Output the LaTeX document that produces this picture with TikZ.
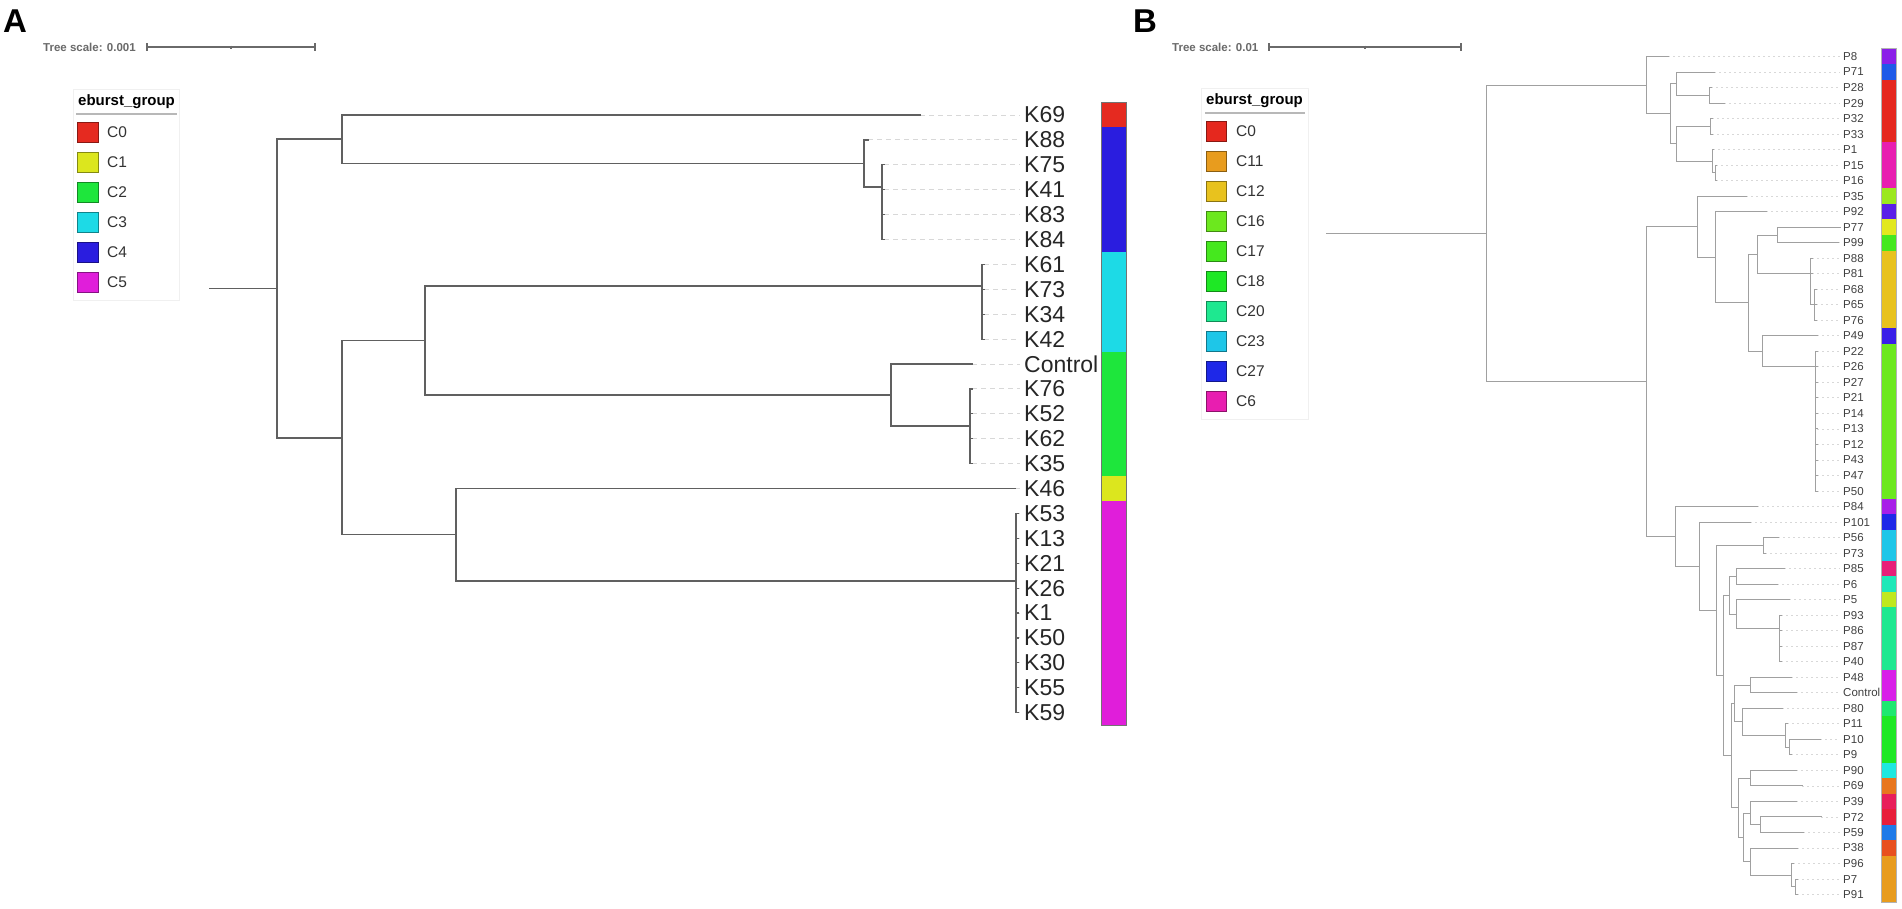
\documentclass[tikz,border=0pt]{standalone}
\usepackage{fontspec}
\setmainfont{Liberation Sans}
\usepackage{xcolor}
\usetikzlibrary{calc}

% panel A groups
\definecolor{cAzero}{HTML}{E52A20}
\definecolor{cAone}{HTML}{DCE61E}
\definecolor{cAtwo}{HTML}{1EE63C}
\definecolor{cAthree}{HTML}{1DDAE6}
\definecolor{cAfour}{HTML}{2A1DDF}
\definecolor{cAfive}{HTML}{E01EDA}
% panel B groups
\definecolor{cBred}{HTML}{E5281E}
\definecolor{cBorange}{HTML}{E89C1E}
\definecolor{cgold}{HTML}{E8C21E}
\definecolor{clime}{HTML}{6CE81E}
\definecolor{cgreenA}{HTML}{45E81E}
\definecolor{cgreenB}{HTML}{1EE825}
\definecolor{cmint}{HTML}{1EE890}
\definecolor{csky}{HTML}{1EC6E8}
\definecolor{cBblue}{HTML}{1E28E8}
\definecolor{cBmag}{HTML}{E81EB0}
\definecolor{cviolet}{HTML}{8B1EE8}
\definecolor{cazure}{HTML}{1E5AE8}
\definecolor{cyg}{HTML}{9BE81E}
\definecolor{cindigo}{HTML}{5A1EE8}
\definecolor{cyellow}{HTML}{E2E81E}
\definecolor{cblueB}{HTML}{3A1EE8}
\definecolor{cpurple}{HTML}{A81EE8}
\definecolor{cpink}{HTML}{E81E78}
\definecolor{caqua}{HTML}{1EE8B8}
\definecolor{clemon}{HTML}{C0E81E}
\definecolor{cpurpB}{HTML}{D81EE8}
\definecolor{cgreenC}{HTML}{1EE870}
\definecolor{ccyan}{HTML}{1EE8E0}
\definecolor{corangeB}{HTML}{E8761E}
\definecolor{ccrimson}{HTML}{E81E5A}
\definecolor{cscarlet}{HTML}{E81E3A}
\definecolor{cazureB}{HTML}{1E7AE8}
\definecolor{cvermil}{HTML}{E8501E}
% lines and text
\definecolor{treeA}{HTML}{606060}
\definecolor{treeB}{HTML}{A0A0A0}
\definecolor{leadgrey}{HTML}{D8D8D8}
\definecolor{scalegrey}{HTML}{6A6A6A}

\tikzset{
	branchA/.style={draw=treeA, line width=1.2pt, line cap=rect},
	branchB/.style={draw=treeB, line width=1pt, line cap=rect},
	leaderA/.style={draw=leadgrey, line width=1pt, dash pattern=on 5pt off 4pt, shorten >=4pt},
	leaderB/.style={draw=leadgrey, line width=0.9pt, dash pattern=on 2pt off 3pt, shorten >=3pt},
	leafA/.style={anchor=west, inner sep=0pt, text=black!85, font=\fontsize{23}{23}\selectfont},
	leafB/.style={anchor=west, inner sep=0pt, text=black!75, font=\fontsize{11.5}{11.5}\selectfont},
	panelmark/.style={anchor=base west, inner sep=0pt, font=\fontsize{33}{33}\selectfont\bfseries},
	scaletext/.style={anchor=west, inner sep=0pt, text=scalegrey, font=\fontsize{11.5}{11.5}\selectfont\bfseries},
	scalebar/.style={draw=scalegrey, line width=1.2pt},
	legbox/.style={draw=black!6, fill=white, line width=1pt},
	legtitle/.style={anchor=west, inner sep=0pt, font=\fontsize{15}{15}\selectfont\bfseries},
	legsep/.style={draw=black!28, line width=2pt},
	legtext/.style={anchor=west, inner sep=0pt, text=black!80, font=\fontsize{15.5}{15.5}\selectfont},
	barframe/.style={draw=black!55, line width=0.8pt}
}

\begin{document}
\begin{tikzpicture}[x=1pt, y=-1pt]
	\useasboundingbox (0,0) rectangle (1902,908);
	\fill[white] (0,0) rectangle (1902,908);

	%%% panel A
	\node[panelmark] (markA) at (3,32) {A};
	\node[scaletext] (scaleA) at (43,47) {Tree scale: 0.001};
	\draw[scalebar] (147,43) -- (147,51) (147,47) -- (315,47) (315,43) -- (315,51) (231,45.5) -- (231,48.5);

	\draw[legbox] (73,89) rectangle (179,300);
	\node[legtitle] (titleA) at (78,102) {eburst\_group};
	\draw[legsep] (76,114) -- (177,114);
	\foreach \k/\col/\lab in {0/cAzero/C0, 1/cAone/C1, 2/cAtwo/C2, 3/cAthree/C3, 4/cAfour/C4, 5/cAfive/C5} {
		\draw[fill=\col, draw=\col!60!black, line width=1pt] (77,{122+30*\k}) rectangle (98,{142+30*\k});
		\node[legtext] (legA\k) at (107,{132+30*\k}) {\lab};
	}

	\foreach \i/\lab/\xe in {0/K69/920, 1/K88/868, 2/K75/884, 3/K41/884, 4/K83/884, 5/K84/884,
		6/K61/984, 7/K73/984, 8/K34/984, 9/K42/984, 10/Control/972, 11/K76/972, 12/K52/972,
		13/K62/972, 14/K35/972, 15/K46/1015, 16/K53/1018, 17/K13/1018, 18/K21/1018, 19/K26/1018,
		20/K1/1018, 21/K50/1018, 22/K30/1018, 23/K55/1018, 24/K59/1018} {
		\pgfmathsetmacro{\yy}{115+24.9*\i}
		\coordinate (a\i) at (\xe,\yy);
		\node[leafA] (labA\i) at (1024,\yy) {\lab};
		\draw[leaderA] (a\i) -- (labA\i.west);
	}

	\coordinate (rootA) at (210,288.5);
	\coordinate (rA) at (277,288.5);
	\coordinate (tA) at (342,139);
	\coordinate (kA) at (864,163.5);
	\coordinate (kkA) at (882,187);
	\coordinate (lA) at (342,438);
	\coordinate (uA) at (425,340.5);
	\coordinate (cthreeA) at (982,286);
	\coordinate (ctlA) at (891,395);
	\coordinate (ctwoA) at (970,426);
	\coordinate (wA) at (456,534.5);
	\coordinate (cfiveA) at (1016,581);

	\draw[branchA] (rootA) -- (rA);
	\foreach \p/\c in {rA/tA, rA/lA, tA/a0, tA/kA, kA/a1, kA/kkA, kkA/a2, kkA/a3, kkA/a4, kkA/a5,
		lA/uA, lA/wA, uA/cthreeA, uA/ctlA, cthreeA/a6, cthreeA/a7, cthreeA/a8, cthreeA/a9,
		ctlA/a10, ctlA/ctwoA, ctwoA/a11, ctwoA/a12, ctwoA/a13, ctwoA/a14, wA/a15, wA/cfiveA,
		cfiveA/a16, cfiveA/a17, cfiveA/a18, cfiveA/a19, cfiveA/a20, cfiveA/a21, cfiveA/a22,
		cfiveA/a23, cfiveA/a24}
		\draw[branchA] (\p) |- (\c);

	\foreach \ra/\rb/\col in {0/0/cAzero, 1/5/cAfour, 6/9/cAthree, 10/14/cAtwo, 15/15/cAone, 16/24/cAfive}
		\fill[\col] (1101,{115+24.9*\ra-12.45}) rectangle (1126,{115+24.9*\rb+12.45});
	\draw[barframe] (1101,102.55) rectangle (1126,725.05);

	%%% panel B
	\node[panelmark] (markB) at (1133,32) {B};
	\node[scaletext] (scaleB) at (1172,47) {Tree scale: 0.01};
	\draw[scalebar] (1269,43) -- (1269,51) (1269,47) -- (1461,47) (1461,43) -- (1461,51) (1365,45.5) -- (1365,48.5);

	\draw[legbox] (1201,88) rectangle (1308,419);
	\node[legtitle] (titleB) at (1206,101) {eburst\_group};
	\draw[legsep] (1205,113) -- (1305,113);
	\foreach \k/\col/\lab in {0/cBred/C0, 1/cBorange/C11, 2/cgold/C12, 3/clime/C16, 4/cgreenA/C17,
		5/cgreenB/C18, 6/cmint/C20, 7/csky/C23, 8/cBblue/C27, 9/cBmag/C6} {
		\draw[fill=\col, draw=\col!60!black, line width=1pt] (1206,{121+30*\k}) rectangle (1226,{141+30*\k});
		\node[legtext] (legB\k) at (1236,{131+30*\k}) {\lab};
	}

	\foreach \j/\lab/\xe in {0/P8/1668, 1/P71/1714, 2/P28/1711, 3/P29/1724, 4/P32/1712, 5/P33/1712,
		6/P1/1713, 7/P15/1716, 8/P16/1716, 9/P35/1746, 10/P92/1766, 11/P77/1840, 12/P99/1838,
		13/P88/1812, 14/P81/1812, 15/P68/1816, 16/P65/1816, 17/P76/1816, 18/P49/1817, 19/P22/1817,
		20/P26/1817, 21/P27/1817, 22/P21/1817, 23/P14/1817, 24/P13/1817, 25/P12/1817, 26/P43/1817,
		27/P47/1817, 28/P50/1817, 29/P84/1757, 30/P101/1750, 31/P56/1778, 32/P73/1765, 33/P85/1784,
		34/P6/1777, 35/P5/1789, 36/P93/1781, 37/P86/1781, 38/P87/1781, 39/P40/1781, 40/P48/1791,
		41/Control/1796, 42/P80/1782, 43/P11/1787, 44/P10/1820, 45/P9/1791, 46/P90/1796, 47/P69/1802,
		48/P39/1796, 49/P72/1821, 50/P59/1803, 51/P38/1797, 52/P96/1793, 53/P7/1797, 54/P91/1797} {
		\pgfmathsetmacro{\yy}{56.5+15.52*\j}
		\coordinate (b\j) at (\xe,\yy);
		\node[leafB] (labB\j) at (1843,\yy) {\lab};
		\draw[leaderB] (b\j) -- (labB\j.west);
	}

	\coordinate (rootB) at (1326,233.3);
	\coordinate (rB) at (1486,233.3);
	\coordinate (tB) at (1646,85.1);
	\coordinate (n1) at (1670,113.8);
	\coordinate (n2) at (1676,83.7);
	\coordinate (n3) at (1676,143.8);
	\coordinate (n4) at (1709,95.3);
	\coordinate (n5) at (1710,126.4);
	\coordinate (n6) at (1712,161.3);
	\coordinate (n7) at (1715,172.9);
	\coordinate (lB) at (1646,381.6);
	\coordinate (g1) at (1697,226.7);
	\coordinate (g2) at (1715,257.2);
	\coordinate (g3) at (1748,302.7);
	\coordinate (g4) at (1757,254);
	\coordinate (g5) at (1777,235);
	\coordinate (g6) at (1810,273);
	\coordinate (g7) at (1814,304.8);
	\coordinate (g8) at (1762,351.3);
	\coordinate (g9) at (1815,366.7);
	\coordinate (m1) at (1675,536.4);
	\coordinate (m2) at (1699,566.2);
	\coordinate (m3) at (1716,610.4);
	\coordinate (m4) at (1763,545.4);
	\coordinate (m5) at (1723,675.4);
	\coordinate (m6) at (1729,595.2);
	\coordinate (m7) at (1731,755.5);
	\coordinate (m8) at (1736,576.4);
	\coordinate (m9) at (1736,614);
	\coordinate (m10) at (1779,628.3);
	\coordinate (m11) at (1734,703.5);
	\coordinate (m12) at (1738,807.6);
	\coordinate (m13) at (1750,685);
	\coordinate (m14) at (1742,721.9);
	\coordinate (m15) at (1785,735.4);
	\coordinate (m16) at (1789,747.1);
	\coordinate (m17) at (1750,778.2);
	\coordinate (m18) at (1743,837);
	\coordinate (m19) at (1750,813);
	\coordinate (m20) at (1750,861.5);
	\coordinate (m21) at (1760,824.7);
	\coordinate (m22) at (1791,875);
	\coordinate (m23) at (1795,886.8);

	\draw[branchB] (rootB) -- (rB);
	\foreach \p/\c in {rB/tB, rB/lB, tB/b0, tB/n1, n1/n2, n1/n3, n2/b1, n2/n4, n4/b2, n4/b3,
		n3/n5, n3/n6, n5/b4, n5/b5, n6/b6, n6/n7, n7/b7, n7/b8,
		lB/g1, lB/m1, g1/b9, g1/g2, g2/b10, g2/g3, g3/g4, g3/g8, g4/g5, g4/g6, g5/b11, g5/b12,
		g6/b13, g6/b14, g6/g7, g7/b15, g7/b16, g7/b17, g8/b18, g8/g9,
		g9/b19, g9/b20, g9/b21, g9/b22, g9/b23, g9/b24, g9/b25, g9/b26, g9/b27, g9/b28,
		m1/b29, m1/m2, m2/b30, m2/m3, m3/m4, m3/m5, m4/b31, m4/b32, m5/m6, m5/m7,
		m6/m8, m6/m9, m8/b33, m8/b34, m9/b35, m9/m10, m10/b36, m10/b37, m10/b38, m10/b39,
		m7/m11, m7/m12, m11/m13, m11/m14, m13/b40, m13/b41, m14/b42, m14/m15, m15/b43, m15/m16,
		m16/b44, m16/b45, m12/m17, m12/m18, m17/b46, m17/b47, m18/m19, m18/m20, m19/b48, m19/m21,
		m21/b49, m21/b50, m20/b51, m20/m22, m22/b52, m22/m23, m23/b53, m23/b54}
		\draw[branchB] (\p) |- (\c);

	\foreach \ra/\rb/\col in {0/0/cviolet, 1/1/cazure, 2/5/cBred, 6/8/cBmag, 9/9/cyg, 10/10/cindigo,
		11/11/cyellow, 12/12/cgreenA, 13/17/cgold, 18/18/cblueB, 19/28/clime, 29/29/cpurple,
		30/30/cBblue, 31/32/csky, 33/33/cpink, 34/34/caqua, 35/35/clemon, 36/39/cmint,
		40/41/cpurpB, 42/42/cgreenC, 43/45/cgreenB, 46/46/ccyan, 47/47/corangeB, 48/48/ccrimson,
		49/49/cscarlet, 50/50/cazureB, 51/51/cvermil, 52/54/cBorange}
		\fill[\col] (1881,{56.5+15.52*\ra-7.76}) rectangle (1896,{56.5+15.52*\rb+7.76});
	\draw[barframe, draw=black!30, line width=0.5pt] (1881,48.74) rectangle (1896,902.26);
\end{tikzpicture}
\end{document}
